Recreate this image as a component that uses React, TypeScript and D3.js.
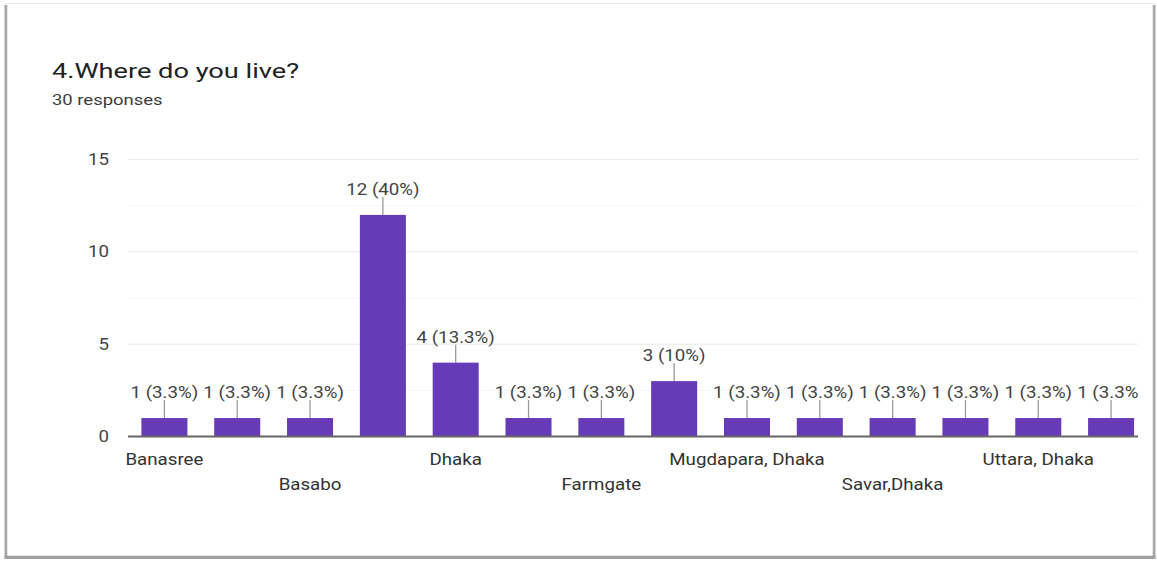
import React from "react";
import * as d3 from "d3";

const TITLE = "4.Where do you live?";
const SUBTITLE = "30 responses";
// 14 answer categories; only every other label is visible in the chart
const categoryLabels = [
  "Banasree", "", "Basabo", "", "Dhaka", "", "Farmgate", "",
  "Mugdapara, Dhaka", "", "Savar,Dhaka", "", "Uttara, Dhaka", "",
];
const counts = [1, 1, 1, 12, 4, 1, 1, 3, 1, 1, 1, 1, 1, 1];
const yTicks = [0, 5, 10, 15];
const yMinorTicks = [2.5, 7.5, 12.5];
const TOTAL = 30;

const W = 1157;
const H = 562;
const SX = 1.17; // horizontal stretch of the reference image

function pct(v: number) {
  const p = (v / TOTAL) * 100;
  const r = Math.round(p * 10) / 10;
  return `${v} (${Number.isInteger(r) ? r.toFixed(0) : r.toFixed(1)}%)`;
}

export default function App() {
  const idx = counts.map((_, i) => String(i));
  const x = d3
    .scaleBand<string>()
    .domain(idx)
    .range([128, 1147.5])
    .paddingInner(0.368)
    .paddingOuter(0.184);
  const y = d3.scaleLinear().domain([0, 15]).range([436.5, 159.5]);
  const gridL = 128;
  const gridR = 1138;
  const font = "Roboto, 'Open Sans', sans-serif";

  const T = (
    tx: number,
    ty: number,
    s: string,
    opts: { size: number; fill: string; anchor?: string; k?: number; weight?: number }
  ) => (
    <text
      transform={`translate(${tx},${ty}) scale(${opts.k ?? SX},1)`}
      fontSize={opts.size}
      fill={opts.fill}
      textAnchor={opts.anchor ?? "start"}
      fontFamily={font}
      fontWeight={opts.weight ?? 400}
    >
      {s}
    </text>
  );

  return (
    <svg
      width={W}
      height={H}
      style={{ position: "absolute", left: 0, top: 0, background: "#fff" }}
    >
      <defs>
        <clipPath id="plotClip">
          <rect x={0} y={0} width={gridR} height={H} />
        </clipPath>
      </defs>
      {/* card */}
      <rect x={0} y={0} width={W} height={H} fill="#fff" />
      <line x1={5} x2={1155} y1={3.5} y2={3.5} stroke="#eaeaea" strokeWidth={1} />
      <rect x={4.5} y={5} width={3} height={553} fill="#a8a8a8" />
      <rect x={1152.5} y={5} width={3} height={553} fill="#a8a8a8" />
      <rect x={4.5} y={555.5} width={1151} height={3.5} fill="#a0a0a0" />
      <rect x={7.5} y={4} width={1145} height={551.5} fill="#fff" />

      {T(52, 78, TITLE, { size: 20, fill: "#202124", k: 1.36 })}
      {T(52, 105, SUBTITLE, { size: 15, fill: "#3c3c3c", k: 1.23 })}

      {/* grid */}
      {yMinorTicks.map((t) => (
        <line key={"m" + t} x1={gridL} x2={gridR} y1={y(t)} y2={y(t)} stroke="#f4f4f4" strokeWidth={1} />
      ))}
      {yTicks.filter((t) => t !== 0).map((t) => (
        <line key={"g" + t} x1={gridL} x2={gridR} y1={y(t)} y2={y(t)} stroke="#e9e9e9" strokeWidth={1} />
      ))}
      {yTicks.map((t) => (
        <g key={"t" + t}>{T(109, y(t) + 5.5, String(t), { size: 16, fill: "#444", anchor: "end" })}</g>
      ))}

      <g clipPath="url(#plotClip)">
        {counts.map((v, i) => {
          const bx = x(String(i))!;
          const cx = bx + x.bandwidth() / 2;
          const top = y(v);
          return (
            <g key={"b" + i}>
              <rect x={bx} y={top} width={x.bandwidth()} height={y(0) - top} fill="#673ab7" />
              <line x1={cx} x2={cx} y1={top} y2={top - 18} stroke="#9a9a9a" strokeWidth={1.3} />
              {T(cx, top - 20, pct(v), { size: 16, fill: "#444", anchor: "middle" })}
            </g>
          );
        })}
      </g>

      <line x1={gridL} x2={gridR} y1={y(0)} y2={y(0)} stroke="#666" strokeWidth={2} />

      {categoryLabels.map((c, i) =>
        c ? (
          <g key={"c" + i}>
            {T(x(String(i))! + x.bandwidth() / 2, (i / 2) % 2 === 0 ? 464.5 : 489.5, c, {
              size: 16,
              fill: "#333",
              anchor: "middle",
            })}
          </g>
        ) : null
      )}
    </svg>
  );
}
